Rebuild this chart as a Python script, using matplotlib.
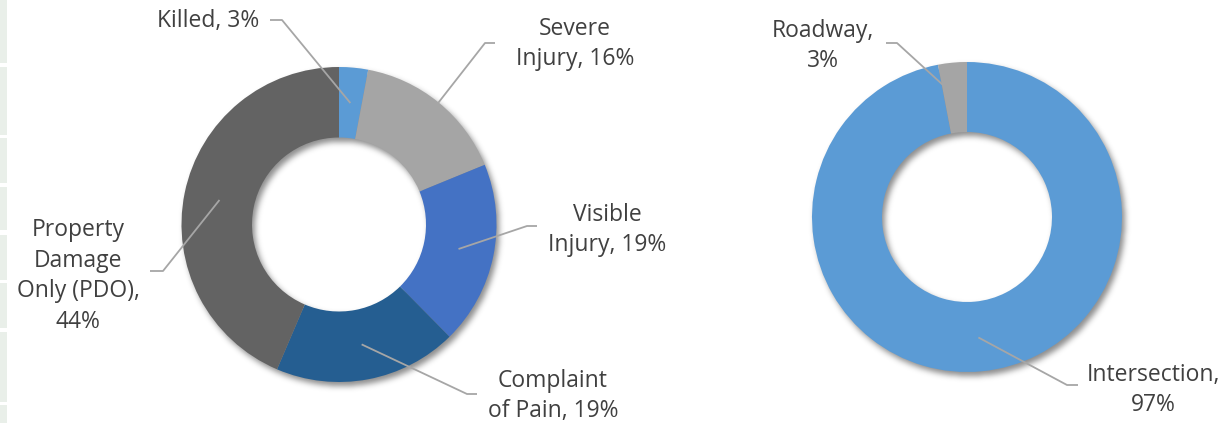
import numpy as np
import matplotlib
matplotlib.use("Agg")
import matplotlib.pyplot as plt

# ---------------- data ----------------
severity_labels = ["Killed", "Severe\nInjury", "Visible\nInjury", "Complaint\nof Pain", "Property\nDamage\nOnly (PDO)"]
severity_pct = [3, 16, 19, 19, 44]
severity_colors = ["#5B9BD5", "#A5A5A5", "#4472C4", "#255E91", "#636363"]

location_labels = ["Intersection", "Roadway"]
location_pct = [97, 3]
location_colors = ["#5B9BD5", "#A5A5A5"]

# ---------------- layout (pixel space) ----------------
W, H = 1226, 423
FONT = "Open Sans"
TXT = "#404040"
LEAD = "#A6A6A6"
FS = 16.5

fig = plt.figure(figsize=(W / 100, H / 100), dpi=100)
ax = fig.add_axes([0, 0, 1, 1])


def Y(y):
    return H - y


# left strip (table cell edges)
strip_bounds = [(0, 63), (67, 135), (138, 183), (187, 230), (235, 280), (283, 328), (332, 402), (405, 423)]
for y0, y1 in strip_bounds:
    ax.add_patch(plt.Rectangle((0, Y(y1)), 7, y1 - y0, facecolor="#E9EFE9", edgecolor="none", zorder=0))

donuts = [
    dict(vals=severity_pct, cols=severity_colors, c=(339, 224.5), r=157.5, rin=87),
    dict(vals=location_pct, cols=location_colors, c=(967, 217), r=155, rin=85),
]

# shadow image
yy, xx = np.mgrid[0:H, 0:W] + 0.5
shadow = np.zeros((H, W))
for d in donuts:
    cx, cy = d["c"]
    rr = np.hypot(xx - (cx + 3), yy - (cy + 4))
    shadow = np.maximum(shadow, ((rr <= d["r"]) & (rr >= d["rin"])).astype(float))
sig = 3.0
k = np.arange(-10, 11)
ker = np.exp(-k ** 2 / (2 * sig ** 2))
ker /= ker.sum()
shadow = np.apply_along_axis(lambda v: np.convolve(v, ker, mode="same"), 1, shadow)
shadow = np.apply_along_axis(lambda v: np.convolve(v, ker, mode="same"), 0, shadow)
rgba = np.zeros((H, W, 4))
rgba[..., 3] = shadow * 0.45
ax.imshow(rgba, extent=(0, W, 0, H), origin="upper", zorder=1, interpolation="bilinear")

all_wedges = []
for d in donuts:
    cx, cy = d["c"]
    wedges, _ = ax.pie(d["vals"], colors=d["cols"], startangle=90, counterclock=False,
                       radius=d["r"], center=(cx, Y(cy)),
                       wedgeprops=dict(width=d["r"] - d["rin"], linewidth=0))
    for w in wedges:
        w.set_zorder(2)
    all_wedges.append(wedges)

# annotation specs: (donut index, wedge index, frac along wedge, radius, elbow, line end, text center, text)
annots = [
    (0, 0, 0.5, 122, (282, 20), (270, 20), (208, 21), f"Killed, {severity_pct[0]}%"),
    (0, 1, 0.5, 157, (485, 43), (495, 43), (575, 44), f"{severity_labels[1]}, {severity_pct[1]}%"),
    (0, 2, 0.5, 122, (527, 226), (537, 226), (607, 230), f"{severity_labels[2]}, {severity_pct[2]}%"),
    (0, 3, 0.5, 122, (467, 394), (477, 394), (553, 396), f"{severity_labels[3]}, {severity_pct[3]}%"),
    (0, 4, 0.5, 122, (163, 271), (150, 271), (78, 276), f"{severity_labels[4]},\n{severity_pct[4]}%"),
    (1, 1, 0.95, 134, (897, 43), (886, 43), (823, 46), f"{location_labels[1]},\n{location_pct[1]}%"),
    (1, 0, 0.5, 121, (1067, 385), (1078, 385), (1153, 390), f"{location_labels[0]},\n{location_pct[0]}%"),
]

for di, wi, frac, rad, elbow, lend, tc, txt in annots:
    w = all_wedges[di][wi]
    ang = np.deg2rad(w.theta1 + frac * (w.theta2 - w.theta1))
    cx, cyd = w.center
    ax_ = cx + rad * np.cos(ang)
    ay_ = cyd + rad * np.sin(ang)
    ax.plot([ax_, elbow[0], lend[0]], [ay_, Y(elbow[1]), Y(lend[1])], color=LEAD, lw=1.3,
            solid_capstyle="butt", zorder=3)
    ax.text(tc[0], Y(tc[1]), txt, ha="center", va="center", multialignment="center",
            fontsize=FS, family=FONT, color=TXT, linespacing=1.38, zorder=4)

ax.set_xlim(0, W)
ax.set_ylim(0, H)
ax.set_aspect("auto")
ax.axis("off")
fig.savefig("out.png", dpi=100, facecolor="white")
